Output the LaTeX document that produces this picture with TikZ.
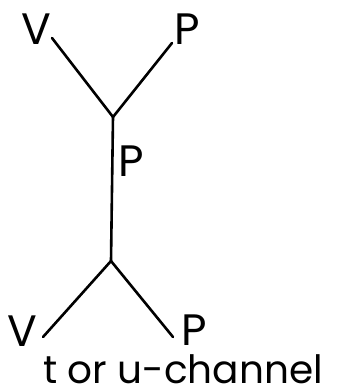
\documentclass[tikz,border=0pt]{standalone}
\usepackage{fontspec}
\setmainfont{Poppins}
\begin{document}
\begin{tikzpicture}[x=1pt,y=-1pt,
  prop/.style={line width=2.6pt,line cap=round},
  lbl/.style={inner sep=0pt,font=\fontsize{44}{48}\selectfont},
  captext/.style={inner sep=0pt,font=\fontsize{39}{42}\selectfont}]
\useasboundingbox (0,0) rectangle (338,392);
\coordinate (vtop) at (113,117);
\coordinate (vbot) at (111,261);
\coordinate (ul) at (52,38);
\coordinate (ur) at (172,43);
\coordinate (ll) at (43,337);
\coordinate (lr) at (173,337);
\node[lbl] (V1) at (36,29) {V};
\node[lbl] (P1) at (187,29) {P};
\node[lbl] (P2) at (131,161) {P};
\node[lbl] (V2) at (22,331) {V};
\node[lbl] (P3) at (194,330) {P};
\node[captext,anchor=base] (caption) at (183,383) {t or u-channel};
\draw[prop] (ul) -- (vtop);
\draw[prop] (ur) -- (vtop);
\draw[prop] (vtop) -- (vbot);
\draw[prop] (vbot) -- (ll);
\draw[prop] (vbot) -- (lr);
\end{tikzpicture}
\end{document}
